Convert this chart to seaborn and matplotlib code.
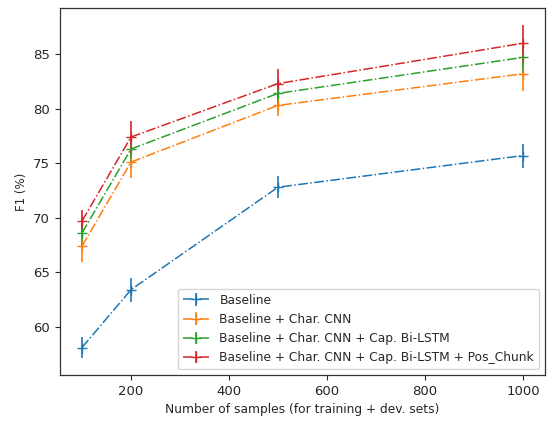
import numpy as np
import matplotlib
matplotlib.use("Agg")
import matplotlib.pyplot as plt
import seaborn as sns

samples = [100, 200, 500, 1000]

baseline = [58.1, 63.4, 72.8, 75.7]
baseline_err = [1.0, 1.1, 1.0, 1.1]

char_cnn = [67.4, 75.1, 80.3, 83.2]
char_cnn_err = [1.5, 1.5, 1.0, 1.6]

cap_lstm = [68.6, 76.3, 81.4, 84.7]
cap_lstm_err = [1.3, 1.3, 1.1, 1.4]

pos_chunk = [69.7, 77.4, 82.3, 86.0]
pos_chunk_err = [1.0, 1.5, 1.3, 1.7]

labels = [
    "Baseline",
    "Baseline + Char. CNN",
    "Baseline + Char. CNN + Cap. Bi-LSTM",
    "Baseline + Char. CNN + Cap. Bi-LSTM + Pos_Chunk",
]

sns.set_theme(style="ticks", palette="tab10")
plt.rcParams["font.family"] = ["DejaVu Sans"]

fig = plt.figure(figsize=(5.5, 4.21), dpi=100)
ax = fig.add_axes([0.109, 0.109, 0.882, 0.872])

colors = sns.color_palette("tab10", 4)
series = [(baseline, baseline_err), (char_cnn, char_cnn_err),
          (cap_lstm, cap_lstm_err), (pos_chunk, pos_chunk_err)]
for (vals, errs), lab, c in zip(series, labels, colors):
    ax.errorbar(samples, vals, yerr=errs, label=lab, color=c,
                linestyle="-.", marker="+", markersize=7, linewidth=1.1,
                elinewidth=1.2, capsize=0)

ax.set_yticks([60, 65, 70, 75, 80, 85])
ax.set_xticks([200, 400, 600, 800, 1000])
ax.set_xlabel("Number of samples (for training + dev. sets)", fontsize=8.8)
ax.set_ylabel("F1 (%)", fontsize=8.5)
ax.tick_params(labelsize=9.5, direction="out", length=3.5, width=0.8)
for s in ax.spines.values():
    s.set_visible(True)
    s.set_linewidth(0.9)
    s.set_color("#333333")

ax.legend(loc="lower right", fontsize=8.8, frameon=True, handlelength=2.2)

fig.savefig("out.png", dpi=100)
